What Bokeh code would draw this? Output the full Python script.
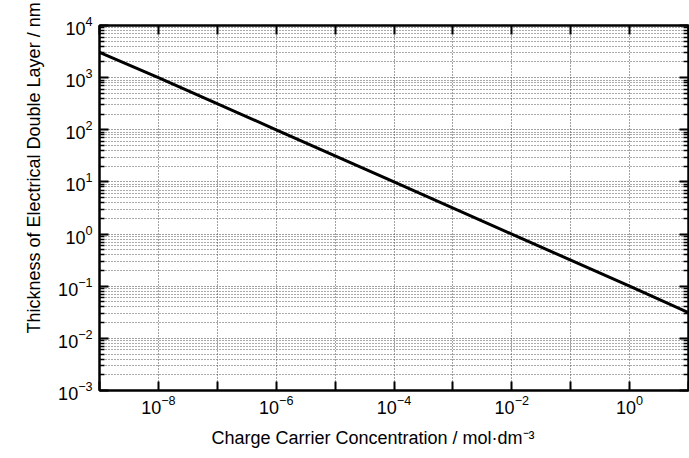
from bokeh.plotting import figure
from bokeh.models import LogAxis, FixedTicker, Range1d, Title
from bokeh.embed import file_html
from bokeh.resources import INLINE

# Data
concentration = [1e-9, 1e-8, 1e-6, 1e-4, 1e-2, 1e0, 1e1]
thickness = [3050, 1000, 100, 10, 1.0, 0.1, 0.031]

x_decades = list(range(-9, 2))
x_labelled = [-8, -6, -4, -2, 0]
y_decades = list(range(-3, 5))

x_title = "Charge Carrier Concentration / mol·dm⁻³"
y_title = "Thickness of Electrical Double Layer / nm"

x_major = [10.0 ** k for k in x_decades]
y_major = [10.0 ** k for k in y_decades]
y_minor = [m * 10.0 ** k for k in y_decades[:-1] for m in range(2, 10)]

FONT = "Liberation Sans"

p = figure(width=689, height=458, x_axis_type="log", y_axis_type="log",
           x_range=Range1d(1e-9, 1e1), y_range=Range1d(1e-3, 1e4),
           output_backend="svg", toolbar_location=None,
           min_border_left=99, min_border_right=1, min_border_top=25,
           min_border_bottom=68)
p.background_fill_color = "white"
p.border_fill_color = "white"
p.outline_line_color = "black"
p.outline_line_width = 2

p.line(concentration, thickness, line_color="black", line_width=3)

xt = FixedTicker(ticks=x_major, minor_ticks=[])
yt = FixedTicker(ticks=y_major, minor_ticks=y_minor)

for ax in p.xaxis:
    ax.ticker = xt
for ax in p.yaxis:
    ax.ticker = yt

def style_axis(ax, labels=True, minor=True):
    ax.axis_line_color = "black"
    ax.axis_line_width = 2
    ax.major_tick_in = 9
    ax.major_tick_out = 0
    ax.major_tick_line_width = 2
    ax.major_tick_line_color = "black"
    if minor:
        ax.minor_tick_in = 5
        ax.minor_tick_out = 0
        ax.minor_tick_line_width = 1.5
        ax.minor_tick_line_color = "black"
    else:
        ax.minor_tick_line_color = None
    ax.major_label_text_font = FONT
    ax.major_label_text_font_size = "18px"
    ax.major_label_text_color = "black"
    if not labels:
        ax.major_label_text_font_size = "0px"
        ax.major_label_text_alpha = 0

xa = p.xaxis[0]
ya = p.yaxis[0]
style_axis(xa, minor=False)
style_axis(ya)
xa.major_label_standoff = 4
ya.major_label_standoff = 7
xa.major_label_overrides = {10.0 ** k: "" for k in x_decades if k not in x_labelled}

right = LogAxis(ticker=yt)
style_axis(right, labels=False)
p.add_layout(right, "right")
top = LogAxis(ticker=xt)
style_axis(top, labels=False, minor=False)
p.add_layout(top, "above")

# axis titles (offset from the frame centre as in the original)
p.add_layout(Title(text=x_title, align="left", offset=112, standoff=19,
                   text_font=FONT, text_font_size="18px", text_font_style="normal",
                   text_color="black"), "below")
p.add_layout(Title(text=y_title, align="left", offset=57, standoff=24,
                   text_font=FONT, text_font_size="18px", text_font_style="normal",
                   text_color="black"), "left")

p.xgrid.ticker = xt
p.ygrid.ticker = yt
p.xgrid.grid_line_color = "#444444"
p.xgrid.grid_line_dash = "1 2"
p.xgrid.grid_line_width = 1
p.ygrid.grid_line_color = "#444444"
p.ygrid.grid_line_dash = "1 2"
p.ygrid.grid_line_width = 1
p.ygrid.minor_grid_line_color = "#555555"
p.ygrid.minor_grid_line_dash = "1 2"
p.ygrid.minor_grid_line_width = 1

open("out.html", "w").write(file_html(p, INLINE))
